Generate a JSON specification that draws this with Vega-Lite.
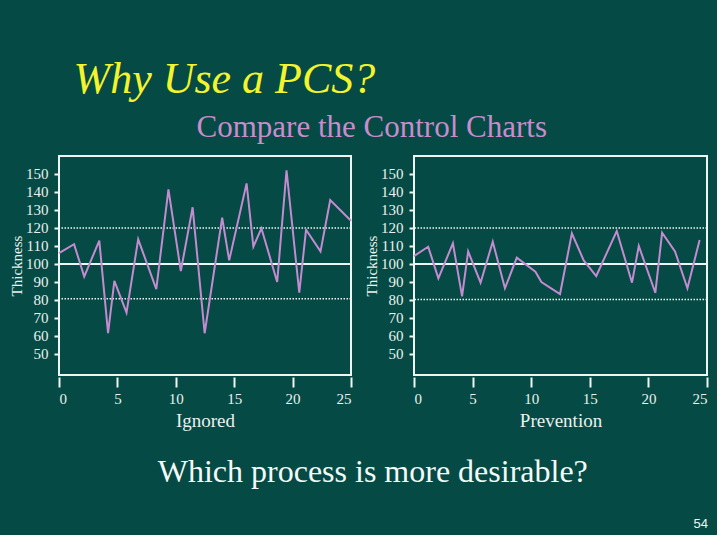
{
  "$schema": "https://vega.github.io/schema/vega-lite/v6.json",
  "background": "#054a44",
  "padding": {"left": 8, "top": 58, "right": 8, "bottom": 4},
  "datasets": {
    "ignored": [
      {"sample": 0, "thickness": 106},
      {"sample": 1.29, "thickness": 111},
      {"sample": 2.16, "thickness": 93},
      {"sample": 3.45, "thickness": 113},
      {"sample": 4.2, "thickness": 61.5},
      {"sample": 4.74, "thickness": 90.6},
      {"sample": 5.78, "thickness": 73},
      {"sample": 6.78, "thickness": 113.7},
      {"sample": 8.33, "thickness": 86},
      {"sample": 9.37, "thickness": 141.5},
      {"sample": 10.43, "thickness": 96},
      {"sample": 11.44, "thickness": 131.5},
      {"sample": 12.47, "thickness": 61.5},
      {"sample": 13.97, "thickness": 125.7},
      {"sample": 14.57, "thickness": 102},
      {"sample": 16.06, "thickness": 144.8},
      {"sample": 16.64, "thickness": 109.6},
      {"sample": 17.33, "thickness": 119.8},
      {"sample": 18.68, "thickness": 90},
      {"sample": 19.48, "thickness": 152},
      {"sample": 20.57, "thickness": 84},
      {"sample": 21.15, "thickness": 119},
      {"sample": 22.39, "thickness": 107},
      {"sample": 23.22, "thickness": 135.5},
      {"sample": 25, "thickness": 124}
    ],
    "prevention": [
      {"sample": 0, "thickness": 104.4},
      {"sample": 1.21, "thickness": 109.6},
      {"sample": 2.08, "thickness": 92},
      {"sample": 3.32, "thickness": 111.5},
      {"sample": 4.1, "thickness": 82},
      {"sample": 4.62, "thickness": 107},
      {"sample": 5.68, "thickness": 89.6},
      {"sample": 6.72, "thickness": 112.4},
      {"sample": 7.76, "thickness": 86.5},
      {"sample": 8.77, "thickness": 103.5},
      {"sample": 10.36, "thickness": 95.7},
      {"sample": 10.87, "thickness": 90},
      {"sample": 12.46, "thickness": 83.3},
      {"sample": 13.47, "thickness": 117},
      {"sample": 14.48, "thickness": 102},
      {"sample": 15.55, "thickness": 93.3},
      {"sample": 17.3, "thickness": 118.3},
      {"sample": 18.6, "thickness": 89.6},
      {"sample": 19.18, "thickness": 110},
      {"sample": 20.59, "thickness": 84},
      {"sample": 21.17, "thickness": 117.4},
      {"sample": 22.27, "thickness": 107},
      {"sample": 23.33, "thickness": 86.5},
      {"sample": 24.37, "thickness": 113.3}
    ],
    "limits_ignored": [
      {"limit": "UCL", "value": 120},
      {"limit": "CL", "value": 100},
      {"limit": "LCL", "value": 80.7}
    ],
    "limits_prevention": [
      {"limit": "UCL", "value": 120},
      {"limit": "CL", "value": 100},
      {"limit": "LCL", "value": 80.2}
    ]
  },
  "title": {
    "text": "Why Use a PCS?",
    "anchor": "start",
    "dx": 65,
    "baseline": "top",
    "font": "Liberation Serif",
    "fontStyle": "italic",
    "fontWeight": "normal",
    "fontSize": 44,
    "color": "#f4f42c",
    "offset": 10
  },
  "vconcat": [
    {
      "title": {
        "text": "54",
        "orient": "bottom",
        "anchor": "end",
        "baseline": "top",
        "dx": -1,
        "font": "Liberation Sans",
        "fontWeight": "normal",
        "fontSize": 13,
        "color": "#eef6f2",
        "offset": 30
      },
      "vconcat": [
        {
          "title": {
            "text": "Which process is more desirable?",
            "orient": "bottom",
            "anchor": "middle",
            "baseline": "top",
            "dx": 14,
            "font": "Liberation Serif",
            "fontWeight": "normal",
            "fontSize": 32,
            "color": "#f4faf8",
            "offset": 26
          },
          "vconcat": [
            {
              "title": {
                "text": "Compare the Control Charts",
                "anchor": "middle",
                "baseline": "top",
                "dx": 13,
                "font": "Liberation Serif",
                "fontWeight": "normal",
                "fontSize": 31,
                "color": "#c98ccc",
                "offset": 11
              },
              "spacing": 7,
              "hconcat": [
                {
                  "width": 292,
                  "height": 219,
                  "encoding": {
                    "y": {"type": "quantitative", "scale": {"domain": [38.3, 160], "nice": false, "zero": false},
                      "axis": {"title": "Thickness", "values": [50, 60, 70, 80, 90, 100, 110, 120, 130, 140, 150], "tickSize": 5, "labelPadding": 6, "titlePadding": 1, "titleFontSize": 15}}
                  },
                  "layer": [
                    {
                      "data": {"name": "limits_ignored"},
                      "transform": [{"filter": "datum.limit !== 'CL'"}],
                      "mark": {"type": "rule", "color": "#eef6f2", "strokeWidth": 1.5, "strokeDash": [1.5, 1.5]},
                      "encoding": {"y": {"field": "value", "type": "quantitative", "title": "Thickness"}}
                    },
                    {
                      "data": {"name": "limits_ignored"},
                      "transform": [{"filter": "datum.limit === 'CL'"}],
                      "mark": {"type": "rule", "color": "#eef6f2", "strokeWidth": 2},
                      "encoding": {"y": {"field": "value", "type": "quantitative", "title": "Thickness"}}
                    },
                    {
                      "data": {"name": "ignored"},
                      "mark": {"type": "line", "color": "#c38bd0", "strokeWidth": 2},
                      "encoding": {
                        "x": {"field": "sample", "type": "quantitative", "scale": {"domain": [0, 25], "nice": false, "zero": false},
                          "axis": {"title": "Ignored", "values": [0, 5, 10, 15, 20, 25], "offset": 2, "tickSize": 10, "labelPadding": 4, "titlePadding": 5, "titleFontSize": 19}},
                        "y": {"field": "thickness", "type": "quantitative", "title": "Thickness"}
                      }
                    }
                  ]
                },
                {
                  "width": 293,
                  "height": 219,
                  "encoding": {
                    "y": {"type": "quantitative", "scale": {"domain": [38.3, 160], "nice": false, "zero": false},
                      "axis": {"title": "Thickness", "values": [50, 60, 70, 80, 90, 100, 110, 120, 130, 140, 150], "tickSize": 5, "labelPadding": 6, "titlePadding": 1, "titleFontSize": 15}}
                  },
                  "layer": [
                    {
                      "data": {"name": "limits_prevention"},
                      "transform": [{"filter": "datum.limit !== 'CL'"}],
                      "mark": {"type": "rule", "color": "#eef6f2", "strokeWidth": 1.5, "strokeDash": [1.5, 1.5]},
                      "encoding": {"y": {"field": "value", "type": "quantitative", "title": "Thickness"}}
                    },
                    {
                      "data": {"name": "limits_prevention"},
                      "transform": [{"filter": "datum.limit === 'CL'"}],
                      "mark": {"type": "rule", "color": "#eef6f2", "strokeWidth": 2},
                      "encoding": {"y": {"field": "value", "type": "quantitative", "title": "Thickness"}}
                    },
                    {
                      "data": {"name": "prevention"},
                      "mark": {"type": "line", "color": "#c38bd0", "strokeWidth": 2},
                      "encoding": {
                        "x": {"field": "sample", "type": "quantitative", "scale": {"domain": [0, 25], "nice": false, "zero": false},
                          "axis": {"title": "Prevention", "values": [0, 5, 10, 15, 20, 25], "offset": 2, "tickSize": 10, "labelPadding": 4, "titlePadding": 5, "titleFontSize": 19}},
                        "y": {"field": "thickness", "type": "quantitative", "title": "Thickness"}
                      }
                    }
                  ]
                }
              ]
            }
          ]
        }
      ]
    }
  ],
  "config": {
    "font": "Liberation Serif",
    "view": {"stroke": "#eef6f2", "strokeWidth": 2, "fill": null},
    "axis": {
      "grid": false,
      "domain": false,
      "labelFont": "Liberation Serif",
      "labelFontSize": 15,
      "labelColor": "#e8f2ee",
      "titleFont": "Liberation Serif",
      "titleFontWeight": "normal",
      "titleColor": "#e8f2ee",
      "tickColor": "#eef6f2",
      "tickWidth": 2
    }
  }
}
